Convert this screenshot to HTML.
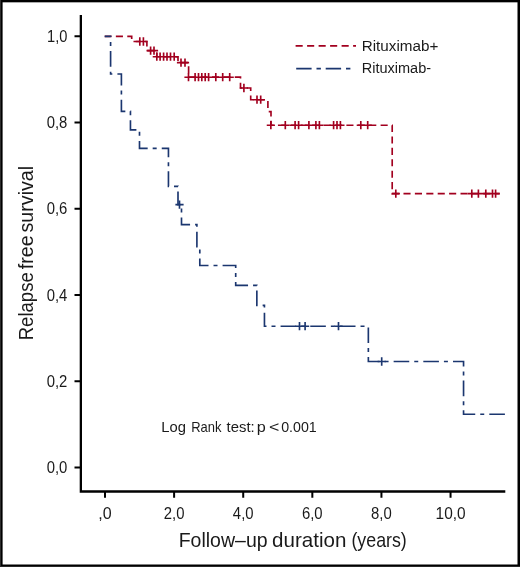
<!DOCTYPE html>
<html><head><meta charset="utf-8"><style>
html,body{margin:0;padding:0;background:#fff;}
body{width:520px;height:567px;overflow:hidden;}
svg{display:block;will-change:transform;}
text{font-family:"Liberation Sans", sans-serif;fill:#1a1a1a;}
.t{font-size:16px;}
.ti{font-size:20.2px;}
.lr{font-size:14.6px;}
.lg{font-size:15.2px;}
</style></head><body>
<svg width="520" height="567" viewBox="0 0 520 567">
<rect x="0" y="0" width="520" height="567" fill="#fff"/>
<rect x="0" y="0" width="520" height="2.33" fill="#000"/>
<rect x="0" y="0" width="2.6" height="567" fill="#000"/>
<rect x="517.5" y="0" width="2.5" height="567" fill="#000"/>
<rect x="0" y="564.5" width="520" height="2.5" fill="#000"/>
<rect x="0" y="0" width="1" height="567" fill="#2d2d2d"/>
<rect x="0" y="566" width="520" height="1" fill="#282828"/>
<path d="M80.85 14.9V491.5H505.3" stroke="#000" stroke-width="2.3" fill="none"/>
<path d="M74.5 36.30H80M74.5 122.56H80M74.5 208.82H80M74.5 295.08H80M74.5 381.34H80M74.5 467.60H80M105.00 492V497.8M174.11 492V497.8M243.22 492V497.8M312.33 492V497.8M381.44 492V497.8M450.55 492V497.8" stroke="#000" stroke-width="2" fill="none"/>
<text transform="translate(67.4,41.7) scale(0.915,1)" text-anchor="end" class="t">1,0</text>
<text transform="translate(67.4,128.0) scale(0.93,1)" text-anchor="end" class="t">0,8</text>
<text transform="translate(67.4,214.2) scale(0.93,1)" text-anchor="end" class="t">0,6</text>
<text transform="translate(67.4,300.5) scale(0.93,1)" text-anchor="end" class="t">0,4</text>
<text transform="translate(67.4,386.7) scale(0.93,1)" text-anchor="end" class="t">0,2</text>
<text transform="translate(67.4,473.0) scale(0.93,1)" text-anchor="end" class="t">0,0</text>
<text transform="translate(105.0,518.6) scale(1.0,1)" text-anchor="middle" class="t">,0</text>
<text transform="translate(174.1,518.6) scale(0.93,1)" text-anchor="middle" class="t">2,0</text>
<text transform="translate(243.2,518.6) scale(0.93,1)" text-anchor="middle" class="t">4,0</text>
<text transform="translate(312.3,518.6) scale(0.93,1)" text-anchor="middle" class="t">6,0</text>
<text transform="translate(381.4,518.6) scale(0.93,1)" text-anchor="middle" class="t">8,0</text>
<text transform="translate(450.6,518.6) scale(0.965,1)" text-anchor="middle" class="t">10,0</text>
<text x="178.70" y="546.7" class="ti" textLength="88.92" lengthAdjust="spacingAndGlyphs">Follow–up</text>
<text x="272.04" y="546.7" class="ti" textLength="74.30" lengthAdjust="spacingAndGlyphs">duration</text>
<text x="351.40" y="546.7" class="ti" textLength="55.41" lengthAdjust="spacingAndGlyphs">(years)</text>
<text transform="translate(32.5,338.80) rotate(-90)" x="-1.52" y="0" class="ti" textLength="68.05" lengthAdjust="spacingAndGlyphs">Relapse</text>
<text transform="translate(32.5,268.90) rotate(-90)" x="-0.28" y="0" class="ti" textLength="33.95" lengthAdjust="spacingAndGlyphs">free</text>
<text transform="translate(32.5,231.90) rotate(-90)" x="-0.55" y="0" class="ti" textLength="66.56" lengthAdjust="spacingAndGlyphs">survival</text>
<text x="161.19" y="431.9" class="lr" textLength="24.67" lengthAdjust="spacingAndGlyphs">Log</text>
<text x="191.24" y="431.9" class="lr" textLength="30.24" lengthAdjust="spacingAndGlyphs">Rank</text>
<text x="226.58" y="431.9" class="lr" textLength="28.08" lengthAdjust="spacingAndGlyphs">test:</text>
<text x="256.85" y="431.9" class="lr" textLength="9.03" lengthAdjust="spacingAndGlyphs">p</text>
<text x="268.93" y="431.9" class="lr" textLength="10.34" lengthAdjust="spacingAndGlyphs">&lt;</text>
<text x="281.15" y="431.9" class="lr" textLength="35.55" lengthAdjust="spacingAndGlyphs">0.001</text>
<path d="M295.6 45.9H356" stroke="#a2001f" stroke-width="1.65" stroke-dasharray="7.1 4.4" fill="none"/>
<path d="M296.2 68.6H351" stroke="#1b366f" stroke-width="1.65" stroke-dasharray="15.4 4.9 4.4 4.8" fill="none"/>
<text x="361.7" y="50.7" class="lg" textLength="76.6" lengthAdjust="spacingAndGlyphs">Rituximab+</text>
<text x="361.7" y="73.3" class="lg" textLength="69.4" lengthAdjust="spacingAndGlyphs">Rituximab-</text>
<polyline points="104.70,36.30 131.70,36.30 131.70,41.50 146.90,41.50 146.90,50.60 156.80,50.60 156.80,56.70 178.00,56.70 178.00,62.60 188.60,62.60 188.60,77.10 240.50,77.10 240.50,88.00 250.70,88.00 250.70,99.70 267.90,99.70 267.90,111.60 271.00,111.60 271.00,125.20 392.20,125.20 392.20,193.60 499.70,193.60" stroke="#a2001f" stroke-width="1.65" fill="none" stroke-dasharray="7.1 4.308" stroke-dashoffset="0.25"/>
<path d="M135.70 41.50h8.2M139.80 37.35v8.3M139.30 41.50h8.2M143.40 37.35v8.3M146.50 50.60h8.2M150.60 46.45v8.3M149.90 50.60h8.2M154.00 46.45v8.3M152.70 56.70h8.2M156.80 52.55v8.3M156.00 56.70h8.2M160.10 52.55v8.3M159.50 56.70h8.2M163.60 52.55v8.3M162.90 56.70h8.2M167.00 52.55v8.3M166.40 56.70h8.2M170.50 52.55v8.3M170.10 56.70h8.2M174.20 52.55v8.3M176.90 62.60h8.2M181.00 58.45v8.3M180.90 62.60h8.2M185.00 58.45v8.3M184.40 77.20h8.2M188.50 73.05v8.3M191.00 77.20h8.2M195.10 73.05v8.3M194.40 77.20h8.2M198.50 73.05v8.3M197.70 77.20h8.2M201.80 73.05v8.3M201.10 77.20h8.2M205.20 73.05v8.3M204.50 77.20h8.2M208.60 73.05v8.3M211.70 77.20h8.2M215.80 73.05v8.3M218.60 77.20h8.2M222.70 73.05v8.3M225.60 77.20h8.2M229.70 73.05v8.3M239.80 88.00h8.2M243.90 83.85v8.3M252.90 99.70h8.2M257.00 95.55v8.3M256.60 99.70h8.2M260.70 95.55v8.3M266.75 125.20h8.2M270.85 121.05v8.3M281.20 125.20h8.2M285.30 121.05v8.3M291.00 125.20h8.2M295.10 121.05v8.3M294.50 125.20h8.2M298.60 121.05v8.3M304.80 125.20h8.2M308.90 121.05v8.3M311.80 125.20h8.2M315.90 121.05v8.3M315.30 125.20h8.2M319.40 121.05v8.3M329.50 125.20h8.2M333.60 121.05v8.3M332.90 125.20h8.2M337.00 121.05v8.3M336.30 125.20h8.2M340.40 121.05v8.3M356.70 125.20h8.2M360.80 121.05v8.3M363.60 125.20h8.2M367.70 121.05v8.3M391.70 193.60h8.2M395.80 189.45v8.3M467.70 193.60h8.2M471.80 189.45v8.3M474.30 193.60h8.2M478.40 189.45v8.3M481.70 193.60h8.2M485.80 189.45v8.3M488.40 193.60h8.2M492.50 189.45v8.3M491.50 193.60h8.2M495.60 189.45v8.3" stroke="#a2001f" stroke-width="1.65" fill="none"/>
<polyline points="104.70,36.30 110.60,36.30 110.60,73.95 121.40,73.95 121.40,111.30 130.45,111.30 130.45,129.90 139.50,129.90 139.50,148.30 168.45,148.30 168.45,186.30 178.00,186.30 178.00,204.60 181.50,204.60 181.50,224.60 196.90,224.60 196.90,246.70 199.80,246.70 199.80,265.50 235.70,265.50 235.70,285.30 256.85,285.30 256.85,305.40 264.45,305.40 264.45,326.20 368.35,326.20 368.35,361.50 463.55,361.50 463.55,414.20 505.00,414.20" stroke="#1b366f" stroke-width="1.65" fill="none" stroke-dasharray="15.6 5 4 5.073" stroke-dashoffset="8.99"/>
<path d="M175.40 204.60h8.2M179.50 200.45v8.3M295.40 326.20h8.2M299.50 322.05v8.3M301.00 326.20h8.2M305.10 322.05v8.3M334.40 326.20h8.2M338.50 322.05v8.3M377.60 361.50h8.2M381.70 357.35v8.3" stroke="#1b366f" stroke-width="1.65" fill="none"/>
</svg>
</body></html>
